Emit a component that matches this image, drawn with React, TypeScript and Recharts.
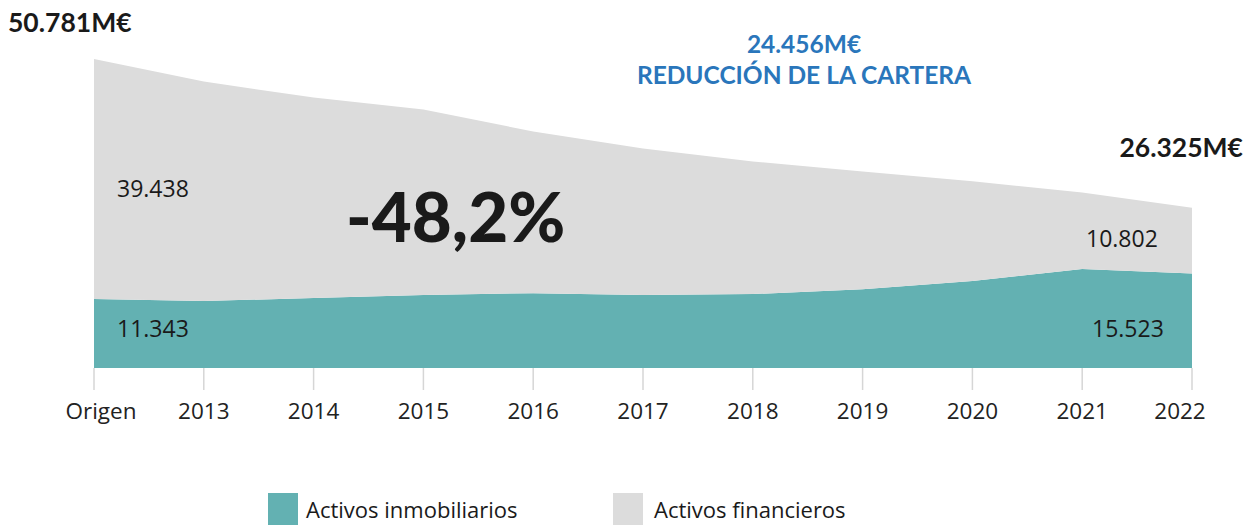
import React from 'react';
import { AreaChart, Area, XAxis, YAxis } from 'recharts';

const years = ['Origen', '2013', '2014', '2015', '2016', '2017', '2018', '2019', '2020', '2021', '2022'];
// millones de euros
const inmobiliarios = [11343, 11000, 11500, 12000, 12300, 12000, 12150, 12950, 14300, 16250, 15523];
const financieros = [39438, 36070, 32940, 30480, 26570, 24080, 21800, 19360, 16370, 12610, 10802];

const TEAL = '#63b1b2';
const GREY = '#dcdcdc';
const BLUE = '#2a76bb';
const BOLD_FONT = 'Lato, "Open Sans", sans-serif';
const FONT = '"Open Sans", Lato, sans-serif';

const data = years.map((year, i) => ({
  year,
  inmobiliarios: inmobiliarios[i],
  financieros: financieros[i],
}));

const txt = (extra: React.CSSProperties): React.CSSProperties => ({
  position: 'absolute',
  fontFamily: FONT,
  color: '#1a1a1a',
  whiteSpace: 'nowrap',
  lineHeight: 1,
  ...extra,
});

// first and last labels sit a bit inside the plot
const YearTick = (props: any) => {
  const { x, y, payload, index } = props;
  let dx = 0;
  if (index === 0) dx = 7;
  if (index === years.length - 1) dx = -12;
  return (
    <text x={x + dx} y={y} dy="0.71em" textAnchor="middle" fontSize={22.5} fill="#222" fontFamily={FONT}>
      {payload.value}
    </text>
  );
};

export default function App() {
  return (
    <div style={{ position: 'fixed', left: 0, top: 0, width: 1255, height: 525, background: '#fff' }}>
      <AreaChart width={1255} height={525} data={data} margin={{ top: 59, right: 63, left: 94, bottom: 127 }}>
        <XAxis
          dataKey="year"
          height={30}
          axisLine={false}
          tickLine={{ stroke: '#d6d6d6', strokeWidth: 1.5 }}
          tickSize={22}
          tickMargin={13}
          interval={0}
          tick={<YearTick />}
        />
        <YAxis hide domain={[0, 50781]} />
        <Area
          type="linear"
          dataKey="inmobiliarios"
          stackId="1"
          stroke="none"
          fill={TEAL}
          fillOpacity={1}
          isAnimationActive={false}
        />
        <Area
          type="linear"
          dataKey="financieros"
          stackId="1"
          stroke="none"
          fill={GREY}
          fillOpacity={1}
          isAnimationActive={false}
        />
      </AreaChart>

      <div style={txt({ left: 8, top: 9, fontSize: 26.5, fontWeight: 700, fontFamily: BOLD_FONT })}>50.781M€</div>
      <div style={txt({ left: 604, width: 400, top: 28, fontSize: 24.5, fontWeight: 700, fontFamily: BOLD_FONT, color: BLUE, textAlign: 'center', lineHeight: '31px' })}>
        24.456M€
        <br />
        REDUCCIÓN DE LA CARTERA
      </div>
      <div style={txt({ right: 12, top: 134, fontSize: 26.5, fontWeight: 700, fontFamily: BOLD_FONT })}>26.325M€</div>
      <div style={txt({ left: 346, top: 181, fontSize: 69, fontWeight: 900, fontFamily: BOLD_FONT })}>-48,2%</div>

      <div style={txt({ left: 117, top: 177, fontSize: 23 })}>39.438</div>
      <div style={txt({ left: 117, top: 317, fontSize: 23 })}>11.343</div>
      <div style={txt({ left: 1086, top: 227, fontSize: 23 })}>10.802</div>
      <div style={txt({ left: 1092, top: 317, fontSize: 23 })}>15.523</div>

      <div style={{ position: 'absolute', left: 268, top: 493, width: 30, height: 32, background: TEAL }} />
      <div style={txt({ left: 306, top: 498, fontSize: 22 })}>Activos inmobiliarios</div>
      <div style={{ position: 'absolute', left: 613, top: 493, width: 30, height: 32, background: GREY }} />
      <div style={txt({ left: 654, top: 498, fontSize: 22 })}>Activos financieros</div>
    </div>
  );
}
